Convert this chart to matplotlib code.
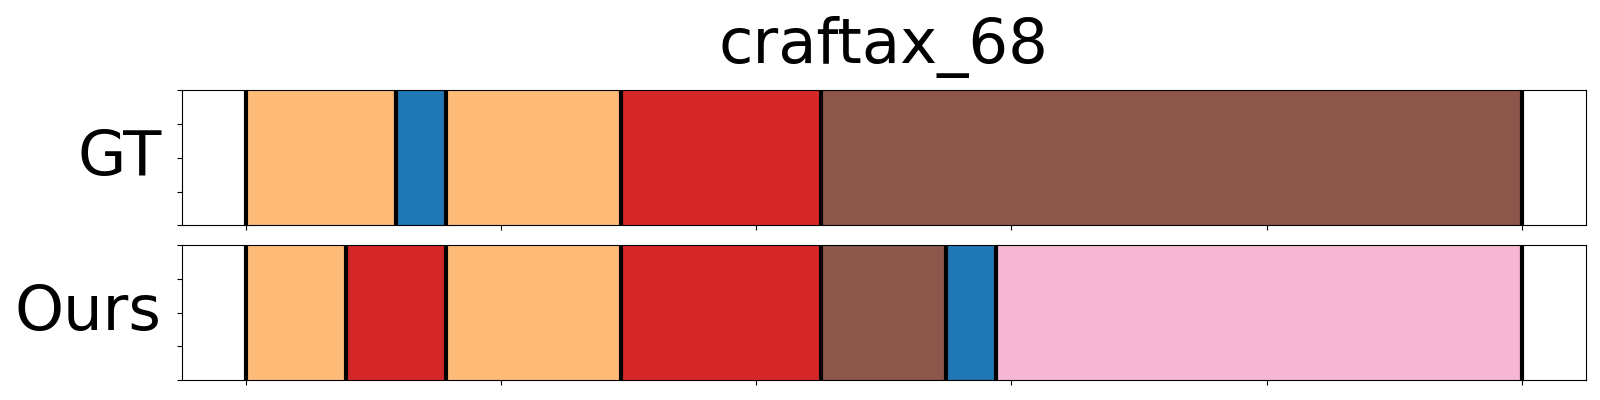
import numpy as np
import matplotlib
matplotlib.use("Agg")
import matplotlib.pyplot as plt

title = "craftax_68"
row_names = ["GT", "Ours"]

# segment lengths (frames) and colours, left to right
gt_lengths = [6, 2, 7, 8, 28]
gt_colors = ["#ffbb78", "#1f77b4", "#ffbb78", "#d62728", "#8c564b"]
ours_lengths = [4, 4, 7, 8, 5, 2, 21]
ours_colors = ["#ffbb78", "#d62728", "#ffbb78", "#d62728", "#8c564b", "#1f77b4", "#f7b6d2"]


def draw_row(ax, lengths, colors, name):
    total = sum(gt_lengths)
    edges = np.concatenate([[0], np.cumsum(lengths)]) / total
    ax.barh(0.5, np.diff(edges), left=edges[:-1], height=1.0, color=colors)
    for e in edges:
        ax.axvline(e, color="black", linewidth=3)
    ax.set_ylim(0, 1)
    ax.set_xticks([0, 0.2, 0.4, 0.6, 0.8, 1.0])
    ax.set_xticklabels([])
    ax.set_yticks([0, 0.25, 0.5, 0.75, 1.0])
    ax.set_yticklabels([])
    ax.set_xlim(-0.05, 1.05)
    ax.set_ylabel(name, rotation=0, fontsize=45, ha="right", va="baseline")
    ax.yaxis.set_label_coords(-0.0145, 0.37)


fig = plt.figure(figsize=(16, 4), dpi=100)
ax1 = fig.add_axes([0.1136, 0.4368, 0.8775, 0.3372])
ax2 = fig.add_axes([0.1136, 0.05, 0.8775, 0.3375])

draw_row(ax1, gt_lengths, gt_colors, row_names[0])
draw_row(ax2, ours_lengths, ours_colors, row_names[1])
ax1.set_title(title, fontsize=45, pad=20)

fig.savefig("out.png", dpi=100)
